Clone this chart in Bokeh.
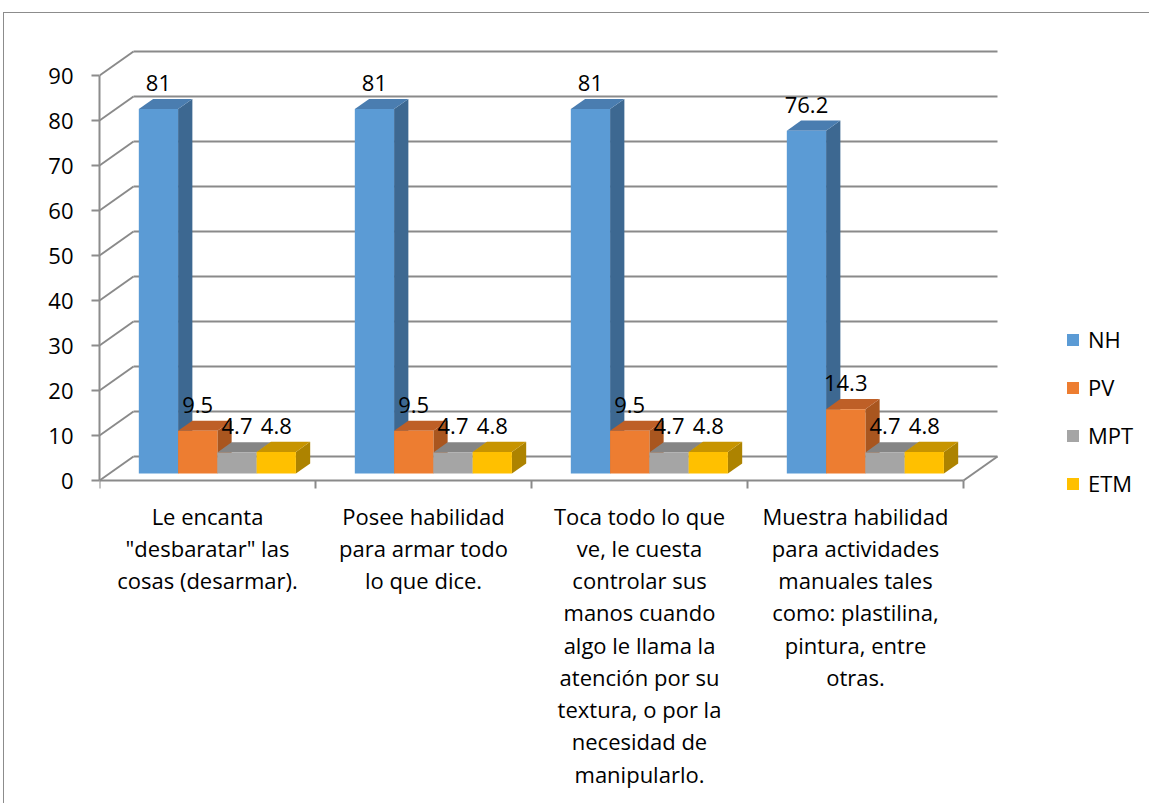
from bokeh.plotting import figure
from bokeh.models import Range1d, FixedTicker, Legend, LegendItem, InlineStyleSheet
from bokeh.core.properties import value
from bokeh.embed import file_html
from bokeh.resources import INLINE

# ---------------- data ----------------
categories = [
    "Le encanta\n\"desbaratar\" las\ncosas (desarmar).",
    "Posee habilidad\npara armar todo\nlo que dice.",
    "Toca todo lo que\nve, le cuesta\ncontrolar sus\nmanos cuando\nalgo le llama la\natención por su\ntextura, o por la\nnecesidad de\nmanipularlo.",
    "Muestra habilidad\npara actividades\nmanuales tales\ncomo: plastilina,\npintura, entre\notras.",
]
series_names = ["NH", "PV", "MPT", "ETM"]
nh = [81, 81, 81, 76.2]
pv = [9.5, 9.5, 9.5, 14.3]
mpt = [4.7, 4.7, 4.7, 4.7]
etm = [4.8, 4.8, 4.8, 4.8]
y_ticks = [0, 10, 20, 30, 40, 50, 60, 70, 80, 90]

front_colors = ["#5B9BD5", "#ED7D31", "#A5A5A5", "#FFC000"]
side_colors = ["#3D6891", "#A9561F", "#7B7B7B", "#AD8300"]
top_colors = ["#4A7DB0", "#BE5F27", "#858585", "#C79400"]

# ---------------- geometry (screen scale of the chart) ----------------
PX_CAT = 216.0   # pixels per category
PX_VAL = 4.5     # pixels per value unit
W, H = 1149, 803
LEFT = 99
ZERO_Y = 480     # canvas y of value 0 on the front plane

wall_dx = 34.0 / PX_CAT
wall_dy = 24.0 / PX_VAL
f0, f1 = 0.29, 0.71
bw = 1.0 / 5.5

frame_w = W - LEFT
x_end = frame_w / PX_CAT
y_end = ZERO_Y / PX_VAL
y_start = -(H - ZERO_Y) / PX_VAL

p = figure(width=W, height=H, output_backend="svg", toolbar_location=None,
           x_range=Range1d(0, x_end), y_range=Range1d(y_start, y_end),
           x_axis_location=None, min_border_left=LEFT, min_border_right=0,
           min_border_top=0, min_border_bottom=0)
p.outline_line_color = None
p.grid.visible = False
p.background_fill_color = "white"
p.border_fill_color = "white"

# chart-area border (top and left edges, as in the reference)
p.stylesheets = [InlineStyleSheet(css="""
:host::after {
  content: "";
  position: absolute;
  left: 3px; top: 12px; width: 1146px; height: 791px;
  box-sizing: border-box;
  border-left: 1px solid #8c8c8c;
  border-top: 1px solid #8c8c8c;
  pointer-events: none;
  z-index: 10;
}
""")]

ax = p.yaxis[0]
ax.ticker = FixedTicker(ticks=y_ticks)
ax.bounds = (0, 90)
ax.axis_line_color = "#8c8c8c"
ax.axis_line_width = 2
ax.major_tick_line_color = "#8c8c8c"
ax.major_tick_line_width = 2
ax.major_tick_out = 8
ax.major_tick_in = 0
ax.minor_tick_line_color = None
ax.major_label_text_font = "Open Sans"
ax.major_label_text_font_size = "22px"
ax.major_label_text_color = "#000000"
ax.major_label_standoff = 18

grid_color = "#8a8a8a"
ncat = len(categories)

# back wall and side wall gridlines
gx, gy = [], []
for v in y_ticks:
    gx.append([wall_dx, ncat + wall_dx]); gy.append([v + wall_dy, v + wall_dy])
    gx.append([0, wall_dx]); gy.append([v, v + wall_dy])
# floor front + right edge
gx.append([0, ncat]); gy.append([0, 0])
gx.append([ncat, ncat + wall_dx]); gy.append([0, wall_dy])
# category ticks
for i in range(ncat + 1):
    gx.append([i, i]); gy.append([0, -8.0 / PX_VAL])
p.multi_line(gx, gy, line_color=grid_color, line_width=2)

# ---------------- 3D bars ----------------
fx, fy = wall_dx * f0, wall_dy * f0
bdx, bdy = wall_dx * (f1 - f0), wall_dy * (f1 - f0)
all_vals = [nh, pv, mpt, etm]
legend_items = []
lab_x, lab_y, lab_t = [], [], []
for k, vals in enumerate(all_vals):
    xl = [i + 0.75 * bw + k * bw + fx for i in range(ncat)]
    xr = [a + bw for a in xl]
    yb = [fy] * ncat
    yt = [fy + v for v in vals]
    side_xs = [[r, r + bdx, r + bdx, r] for r in xr]
    side_ys = [[b, b + bdy, t + bdy, t] for b, t in zip(yb, yt)]
    top_xs = [[l, r, r + bdx, l + bdx] for l, r in zip(xl, xr)]
    top_ys = [[t, t, t + bdy, t + bdy] for t in yt]
    p.patches(side_xs, side_ys, fill_color=side_colors[k], line_color=None)
    p.patches(top_xs, top_ys, fill_color=top_colors[k], line_color=None)
    fr = p.quad(left=xl, right=xr, bottom=yb, top=yt, fill_color=front_colors[k], line_color=None)
    legend_items.append(LegendItem(label=series_names[k], renderers=[fr]))
    for l, r, t, v in zip(xl, xr, yt, vals):
        lab_x.append((l + r) / 2)
        lab_y.append(t + 26.0 / PX_VAL)
        lab_t.append(str(int(v)) if float(v).is_integer() else str(v))

p.text(x=lab_x, y=lab_y, text=lab_t, text_font=value("Open Sans"), text_font_size="22px",
       text_color="#000000", text_align="center", text_baseline="middle")

# category labels
p.text(x=[i + 0.5 for i in range(ncat)], y=[-20.0 / PX_VAL] * ncat, text=categories,
       text_font=value("Open Sans"), text_font_size="22px", text_color="#000000",
       text_align="center", text_baseline="top", text_line_height=1.075)

legend = Legend(items=legend_items, location=(966, 305), orientation="vertical",
                glyph_width=15, glyph_height=15, label_height=30, spacing=18,
                label_standoff=8, padding=0, margin=0,
                label_text_font="Open Sans", label_text_font_size="22px",
                label_text_color="#000000", border_line_color=None,
                background_fill_alpha=0)
p.add_layout(legend)

open("out.html", "w").write(file_html(p, INLINE))
